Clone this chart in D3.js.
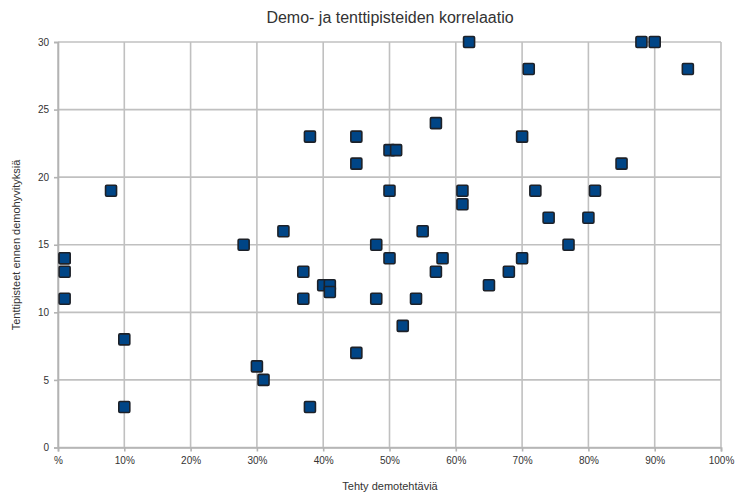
<!DOCTYPE html>
<html><head><meta charset="utf-8">
<script src="https://cdn.jsdelivr.net/npm/d3@7"></script>
<style>body{margin:0;background:#fff;font-family:"Liberation Sans",Arial,sans-serif;}</style>
</head><body><svg id="c" width="740" height="500"></svg>
<script>
const demoPct = [1,1,1,1,8,10,10,28,30,31,34,37,37,38,38,40,41,41,45,45,45,48,48,50,51,50,50,52,54,55,57,57,58,61,61,62,65,68,70,70,71,72,74,77,80,81,85,88,90,95];
const examPts = [14,14,13,11,19,8,3,15,6,5,16,13,11,23,3,12,12,11.5,23,21,7,15,11,22,22,19,14,9,11,16,24,13,14,19,18,30,12,13,23,14,28,19,17,15,17,19,21,30,30,28];
const xTicks = [0,10,20,30,40,50,60,70,80,90,100];
const xTickLabels = ["%","10%","20%","30%","40%","50%","60%","70%","80%","90%","100%"];
const yTicks = [0,5,10,15,20,25,30];
const title = "Demo- ja tenttipisteiden korrelaatio";
const xTitle = "Tehty demotehtäviä";
const yTitle = "Tenttipisteet ennen demohyvityksiä";

const svg = d3.select("#c");
const L = 58, R = 721, T = 42, B = 447.5;
const x = d3.scaleLinear().domain([0,100]).range([L,R]);
const y = d3.scaleLinear().domain([0,30]).range([B,T]);
const gridC = "#c0c0c0", txtC = "#333";

// grid
svg.append("g").selectAll("line").data(xTicks).join("line")
  .attr("x1",d=>x(d)).attr("x2",d=>x(d)).attr("y1",T).attr("y2",B)
  .attr("stroke",gridC).attr("stroke-width",1.6);
svg.append("g").selectAll("line").data(yTicks).join("line")
  .attr("x1",L).attr("x2",R).attr("y1",d=>y(d)).attr("y2",d=>y(d))
  .attr("stroke",gridC).attr("stroke-width",1.6);

// axes
const xAxis = d3.axisBottom(x).tickValues(xTicks).tickFormat((d,i)=>xTickLabels[i]).tickSize(4).tickPadding(5);
const gx = svg.append("g").attr("transform",`translate(0,${B})`).call(xAxis);
const yAxis = d3.axisLeft(y).tickValues(yTicks).tickSize(4).tickPadding(5);
const gy = svg.append("g").attr("transform",`translate(${L},0)`).call(yAxis);
[gx,gy].forEach(g=>{
  g.select(".domain").attr("stroke","#b3b3b3").attr("stroke-width",1.6);
  g.selectAll(".tick line").attr("stroke","#b3b3b3").attr("stroke-width",1.6);
  g.selectAll("text").attr("fill",txtC).attr("font-size",10).attr("font-family","Liberation Sans, Arial, sans-serif");
});

// points
svg.append("g").selectAll("rect").data(demoPct.map((d,i)=>({x:d,y:examPts[i]}))).join("rect")
  .attr("x",d=>x(d.x)-5.5).attr("y",d=>y(d.y)-5.5).attr("width",11).attr("height",11)
  .attr("rx",1.2).attr("fill","#004586").attr("stroke","#1d2128").attr("stroke-width",1.6);

// titles
svg.append("text").attr("x",390).attr("y",23).attr("text-anchor","middle")
  .attr("font-size",16).attr("fill",txtC).text(title);
svg.append("text").attr("x",390).attr("y",490).attr("text-anchor","middle")
  .attr("font-size",11).attr("fill",txtC).text(xTitle);
svg.append("text").attr("transform","translate(20,245) rotate(-90)").attr("text-anchor","middle")
  .attr("font-size",11).attr("fill",txtC).text(yTitle);
</script></body></html>
